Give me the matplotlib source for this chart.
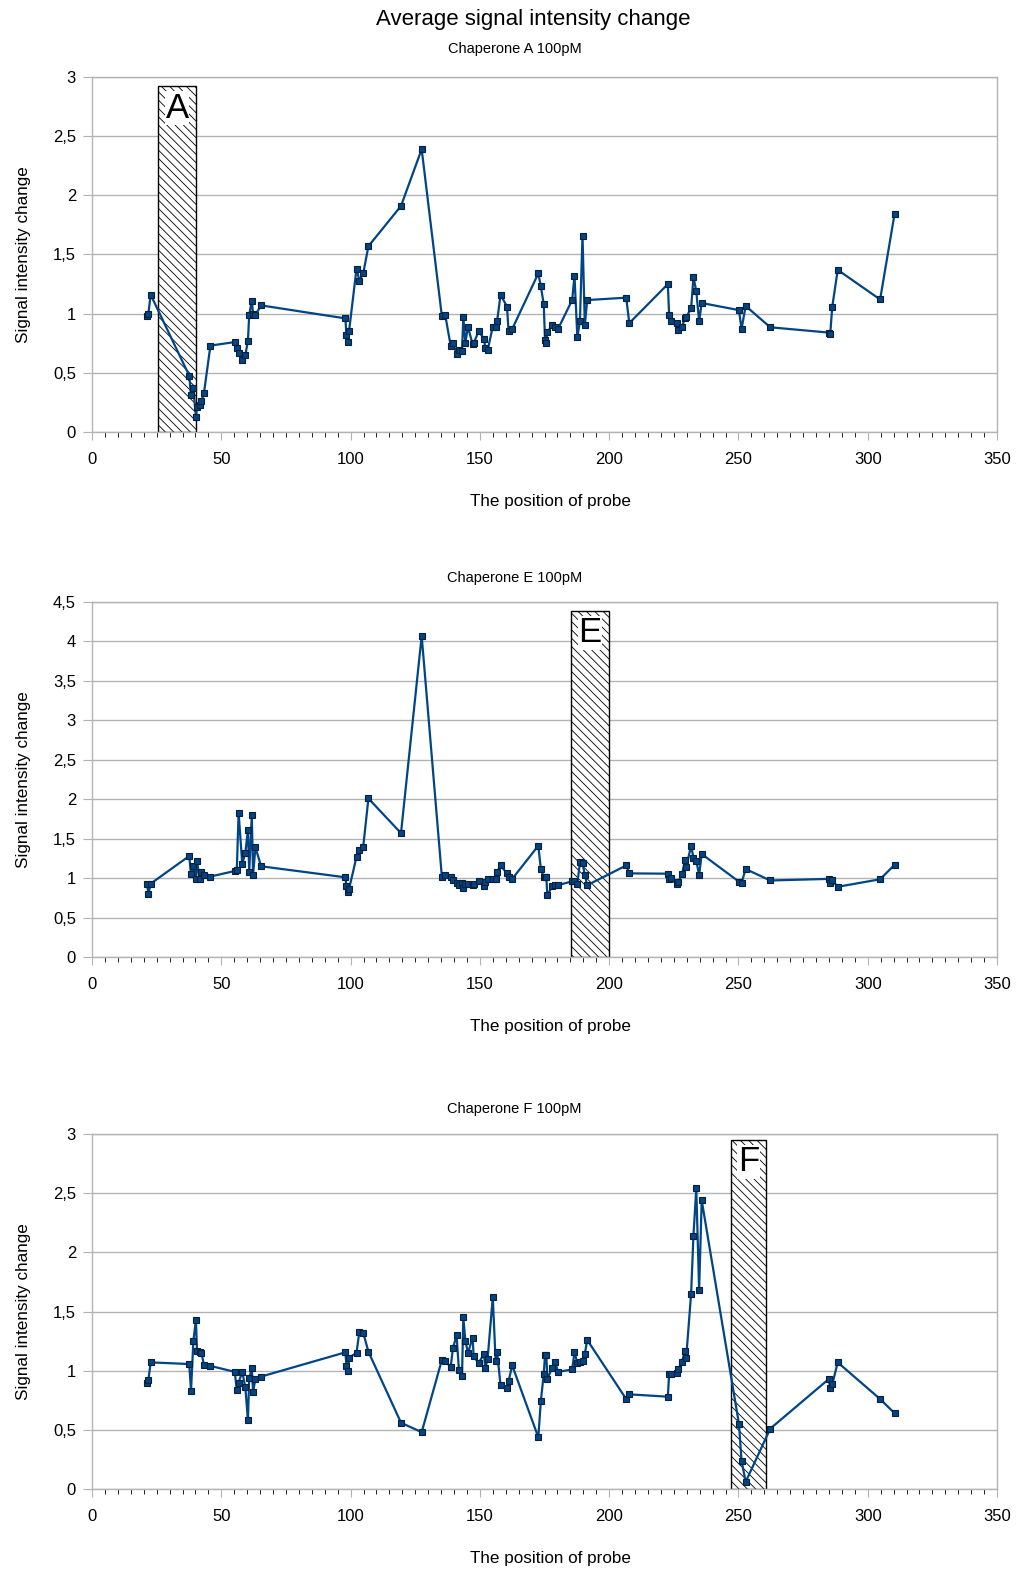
import numpy as np
import matplotlib
matplotlib.use("Agg")
import matplotlib.pyplot as plt
from matplotlib.patches import Rectangle
from matplotlib.ticker import MultipleLocator, FuncFormatter

plt.rcParams['font.family'] = ['Liberation Sans', 'DejaVu Sans']
plt.rcParams['hatch.linewidth'] = 0.6

# probe positions (shared by all three chaperones)
positions = [21.3, 21.8, 22.7,
             37.6, 38.3, 39.2, 40.2, 40.6, 41.6, 42.3, 43.3, 45.8,
             55.2, 56.0, 56.7, 58.1, 59.3, 60.3, 60.8, 61.8, 62.3, 63.2, 65.4,
             98.0, 98.4, 99.0, 99.4, 102.3, 103.4, 104.9, 106.9,
             119.5, 127.5,
             135.3, 136.6, 138.7, 139.6, 141.0, 141.9, 143.1, 143.6, 144.4, 145.4,
             147.2, 147.6, 149.5, 151.6, 152.1, 153.0, 155.0, 156.1, 156.7, 158.0,
             160.5, 161.1, 162.5,
             172.6, 173.6, 174.7, 175.2, 175.7, 176.1, 178.0, 179.2, 180.2,
             185.7, 186.6, 187.7, 188.7, 189.7, 190.6, 191.5,
             206.6, 207.8,
             222.7, 223.2, 223.8, 226.1, 226.7, 228.2, 229.3, 229.8, 231.7, 232.6,
             233.7, 234.8, 235.8,
             250.2, 251.2, 252.8, 262.3,
             285.0, 285.5, 286.3, 288.4, 304.8, 310.4]

chap_a = [0.98, 1.00, 1.16,
          0.476, 0.31, 0.37, 0.13, 0.21, 0.23, 0.26, 0.33, 0.73,
          0.76, 0.71, 0.67, 0.61, 0.65, 0.77, 0.99, 1.11, 1.00, 0.99, 1.07,
          0.96, 0.82, 0.76, 0.85, 1.38, 1.28, 1.34, 1.57,
          1.91, 2.39,
          0.98, 0.99, 0.73, 0.755, 0.66, 0.69, 0.685, 0.97, 0.755, 0.89,
          0.74, 0.75, 0.85, 0.79, 0.71, 0.69, 0.89, 0.89, 0.94, 1.16,
          1.06, 0.85, 0.87,
          1.34, 1.23, 1.08, 0.78, 0.755, 0.845, 0.90, 0.89, 0.87,
          1.115, 1.32, 0.80, 0.935, 1.66, 0.90, 1.115,
          1.135, 0.92,
          1.25, 0.99, 0.94, 0.92, 0.86, 0.89, 0.96, 0.97, 1.045, 1.31,
          1.19, 0.935, 1.09,
          1.03, 0.87, 1.065, 0.885,
          0.84, 0.83, 1.06, 1.37, 1.12, 1.845]

chap_e = [0.92, 0.80, 0.93,
          1.28, 1.05, 1.15, 0.99, 1.22, 0.99, 1.08, 1.035, 1.02,
          1.09, 1.10, 1.83, 1.18, 1.32, 1.61, 1.08, 1.80, 1.04, 1.39, 1.15,
          1.01, 0.90, 0.83, 0.86, 1.27, 1.35, 1.40, 2.01,
          1.57, 4.07,
          1.02, 1.035, 1.02, 0.976, 0.94, 0.91, 0.94, 0.88, 0.92, 0.93,
          0.91, 0.92, 0.96, 0.90, 0.95, 0.985, 0.985, 0.985, 1.08, 1.16,
          1.06, 1.02, 0.99,
          1.41, 1.115, 1.01, 1.02, 1.01, 0.78, 0.90, 0.91, 0.91,
          0.96, 0.96, 0.925, 1.20, 1.19, 1.04, 0.91,
          1.16, 1.06,
          1.056, 0.99, 1.00, 0.92, 0.955, 1.05, 1.225, 1.14, 1.41, 1.26,
          1.22, 1.04, 1.305,
          0.955, 0.94, 1.115, 0.97,
          0.99, 0.94, 0.97, 0.89, 0.985, 1.17]

chap_f = [0.90, 0.92, 1.07,
          1.056, 0.83, 1.25, 1.43, 1.17, 1.16, 1.15, 1.05, 1.04,
          0.99, 0.84, 0.90, 0.99, 0.86, 0.58, 0.935, 1.02, 0.82, 0.93, 0.95,
          1.155, 1.04, 1.00, 1.11, 1.15, 1.33, 1.32, 1.16,
          0.56, 0.48,
          1.09, 1.085, 1.03, 1.19, 1.30, 1.005, 0.955, 1.45, 1.25, 1.15,
          1.28, 1.12, 1.065, 1.14, 1.02, 1.10, 1.62, 1.08, 1.155, 0.876,
          0.85, 0.91, 1.045,
          0.437, 0.746, 0.97, 1.13, 1.13, 0.93, 1.025, 1.07, 0.99,
          1.01, 1.155, 1.065, 1.076, 1.08, 1.14, 1.26,
          0.76, 0.80,
          0.78, 0.97, 0.97, 0.98, 1.01, 1.076, 1.17, 1.11, 1.65, 2.14,
          2.54, 1.68, 2.44,
          0.55, 0.24, 0.06, 0.51,
          0.93, 0.85, 0.885, 1.07, 0.76, 0.64]

subtitles = ["Chaperone A 100pM", "Chaperone E 100pM", "Chaperone F 100pM"]
series = [chap_a, chap_e, chap_f]
y_max = [3, 4.5, 3]
# hatched regions: (start, end, top, label)
regions = [(25.6, 40.3, 2.92, "A"), (185.2, 200.0, 4.385, "E"), (247.0, 260.8, 2.95, "F")]

W, H = 1018, 1571
fig = plt.figure(figsize=(W / 100, H / 100), dpi=100)

# axes boxes in pixels: (left, top, right, bottom)
boxes = [(92, 77, 997, 432), (92, 602, 997, 957), (92, 1134, 997, 1489)]
title_pads = [17, 14.5, 15]

line_col = '#004586'
grid_col = '#b3b3b3'
comma = FuncFormatter(lambda v, p: ('%g' % v).replace('.', ','))

for i in range(3):
    l, t, r, b = boxes[i]
    ax = fig.add_axes([l / W, 1 - b / H, (r - l) / W, (b - t) / H])
    ax.set_xlim(0, 350)
    ax.set_ylim(0, y_max[i])

    x0, x1, top, lab = regions[i]
    ax.add_patch(Rectangle((x0, 0), x1 - x0, top, facecolor='white',
                           edgecolor='black', hatch='\\\\\\\\', lw=1.0, zorder=2))
    ax.text((x0 + x1) / 2, top - 0.015 * y_max[i], lab, ha='center', va='top',
            fontsize=25, zorder=3,
            bbox=dict(facecolor='white', edgecolor='none', pad=0.5))

    ax.plot(positions, series[i], color=line_col, lw=1.6, marker='s', ms=5,
            mfc=line_col, mec='#0a1f33', mew=0.8, zorder=4)

    ax.yaxis.set_major_locator(MultipleLocator(0.5))
    ax.yaxis.set_major_formatter(comma)
    ax.xaxis.set_major_locator(MultipleLocator(50))
    ax.xaxis.set_minor_locator(MultipleLocator(5))
    ax.grid(axis='y', color=grid_col, lw=1.0, zorder=0)
    ax.set_axisbelow(True)
    for s in ax.spines.values():
        s.set_color(grid_col)
        s.set_linewidth(1.0)
    ax.tick_params(axis='both', colors=grid_col, labelcolor='black', labelsize=12)
    ax.tick_params(axis='x', which='major', length=5.5, pad=9)
    ax.tick_params(axis='x', which='minor', length=3.6)
    ax.tick_params(axis='y', length=6.5, pad=5)

    ax.set_xlabel("The position of probe", fontsize=12.3, labelpad=19, x=0.507)
    ax.set_ylabel("Signal intensity change", fontsize=12.3, labelpad=16)
    ax.set_title(subtitles[i], fontsize=10.5, pad=title_pads[i], x=0.467)

fig.text(0.524, 1 - 20 / H, "Average signal intensity change", ha='center',
         va='center', fontsize=16)

fig.savefig("out.png", dpi=100)
